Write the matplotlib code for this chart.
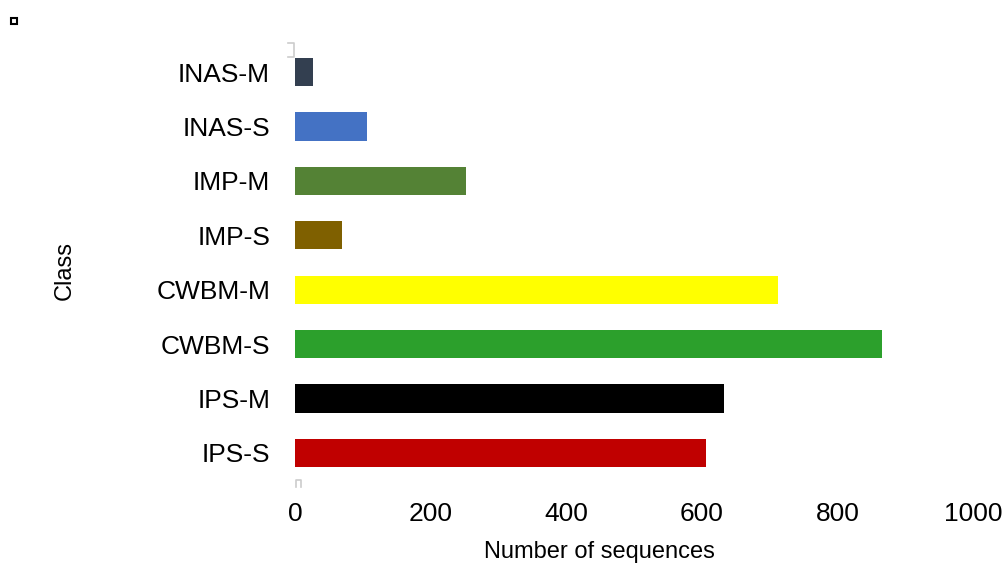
import matplotlib
matplotlib.use("Agg")
import matplotlib.pyplot as plt
import matplotlib.patches as mpatches
from matplotlib.lines import Line2D

plt.rcParams['font.family'] = ['Liberation Sans', 'DejaVu Sans']

# class names listed bottom to top, as barh draws them
classes = ["IPS-S", "IPS-M", "CWBM-S", "CWBM-M", "IMP-S", "IMP-M", "INAS-S", "INAS-M"]
counts  = [606, 633, 866, 712, 69, 252, 106, 26]
colors  = ["#C00000", "#000000", "#2CA02C", "#FFFF00",
           "#7F6000", "#548235", "#4472C4", "#333F50"]
xticks  = [0, 200, 400, 600, 800, 1000]

fig = plt.figure(figsize=(10.04, 5.64), dpi=100)
ax = fig.add_axes([295/1004, 1 - 480/564, (973 - 295)/1004, (480 - 45)/564])

ax.barh(classes, counts, height=0.52, color=colors)
ax.set_xlim(0, 1000)
ax.set_ylim(-0.5, len(classes) - 0.5)
ax.set_xticks(xticks)
ax.set_xticklabels([str(t) for t in xticks])
ax.tick_params(axis='x', length=0, pad=16, labelsize=19)
ax.tick_params(axis='y', length=0, pad=18, labelsize=19)
for s in ax.spines.values():
    s.set_visible(False)

fig.text(599/1004, 1 - 552/564, "Number of sequences", ha='center', va='center', fontsize=17)
fig.text(65/1004, 1 - 270/564, "Class", ha='center', va='center', rotation=90, fontsize=17)

# small markers left over from the chart frame
fig.add_artist(mpatches.Rectangle((11/1004, 1 - 24/564), 6/1004, 6/564,
                                  transform=fig.transFigure, fill=False,
                                  edgecolor='black', lw=1.5))
fig.add_artist(Line2D([288/1004, 294/1004, 294/1004, 288/1004],
                      [1 - 43/564, 1 - 43/564, 1 - 57/564, 1 - 57/564],
                      transform=fig.transFigure, color='#CCCCCC', lw=1.2))
fig.add_artist(Line2D([296/1004, 296/1004, 301/1004, 301/1004],
                      [1 - 487/564, 1 - 480/564, 1 - 480/564, 1 - 487/564],
                      transform=fig.transFigure, color='#CCCCCC', lw=1.2))

fig.savefig("out.png", dpi=100)
